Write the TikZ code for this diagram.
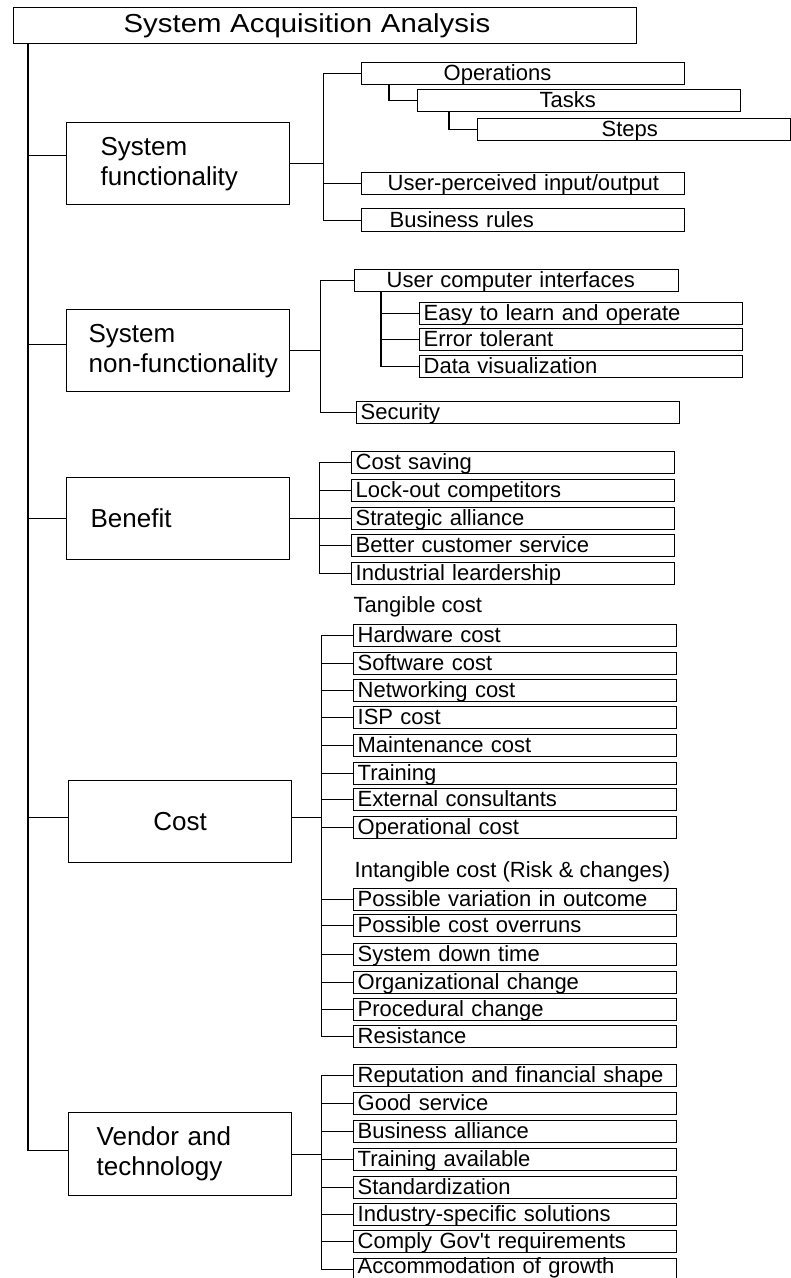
\documentclass[tikz,border=0pt]{standalone}
\usepackage{fontspec}
\usepackage{tikz}
\usetikzlibrary{positioning}
\newfontfamily\sansA{Liberation Sans}
\newfontfamily\sansT[FakeStretch=1.13]{Liberation Sans}
\newcommand{\leaffont}{\sansA\fontsize{22}{24}\selectfont}
\newcommand{\topicfont}{\sansA\fontsize{26}{30}\selectfont}
\newcommand{\titlefont}{\sansT\fontsize{26}{30}\selectfont}
\tikzset{
	leaf/.style={draw, anchor=north west, minimum height=22pt, inner xsep=4pt, inner ysep=0pt,
		text width=#1, align=left, text height=17pt, text depth=3pt, font=\leaffont},
	leaf/.default=315pt,
	topic/.style={draw, anchor=north west, minimum width=223pt, minimum height=82pt,
		inner xsep=8pt, text width=207pt, align=left, font=\topicfont},
	groupcap/.style={anchor=west, inner sep=0pt, font=\leaffont},
}

\begin{document}
\begin{tikzpicture}[x=1pt, y=-1pt, line width=1.3pt]
	\useasboundingbox (0,0) rectangle (791,1278);
	\clip (0,0) rectangle (791,1278);
	
	% Title and trunk
	\node [draw, anchor=north west, minimum width=623pt, minimum height=36pt, inner sep=0pt,
		text width=623pt, align=left, font=\titlefont] (title) at (13,7) {\hspace*{110pt}System Acquisition Analysis};
	\coordinate (trunk) at ([xshift=15]title.south west);
	
	% Topics
	\node [topic] (sf) at (66,122) {\hspace*{26pt}System\\\hspace*{26pt}functionality};
	\node [topic] (nf) at (66,309) {\hspace*{14pt}System\\\hspace*{14pt}\mbox{non-functionality}};
	\node [topic] (bn) at (66,477) {\hspace*{16pt}Benefit};
	\node [topic, align=center] (ct) at (68,780) {Cost};
	\node [topic, minimum height=83pt] (vt) at (68,1112) {\hspace*{20pt}Vendor and\\\hspace*{20pt}technology};
	
	% System functionality
	\node [leaf] (op) at (361,62) {\hspace*{78pt}Operations};
	\node [leaf] (tk) at (417,89) {\hspace*{118pt}Tasks};
	\node [leaf=305pt] (st) at (477,118) {\hspace*{120pt}Steps};
	\node [leaf] (up) at (361,172) {\hspace*{22pt}User-perceived input/output};
	\node [leaf, minimum height=23pt] (br) at (361,208) {\hspace*{24pt}Business rules};
	
	% System non-functionality
	\node [leaf=316pt] (uci) at (354,269) {\hspace*{28pt}User computer interfaces};
	\node [leaf] (ez) at (419,302) {Easy to learn and operate};
	\node [leaf] (et) at (419,328) {Error tolerant};
	\node [leaf] (dv) at (419,355) {Data visualization};
	\node [leaf] (sec) at (356,401) {Security};
	
	% Benefit
	\node [leaf] (b1) at (351,451) {Cost saving};
	\node [leaf] (b2) at (351,479) {Lock-out competitors};
	\node [leaf] (b3) at (351,507) {Strategic alliance};
	\node [leaf] (b4) at (351,534) {Better customer service};
	\node [leaf] (b5) at (351,562) {Industrial leardership};
	
	% Cost: tangible
	\node [groupcap] (tang) at (353,607) {Tangible cost};
	\node [leaf] (c1) at (353,624) {Hardware cost};
	\node [leaf] (c2) at (353,652) {Software cost};
	\node [leaf] (c3) at (353,679) {Networking cost};
	\node [leaf] (c4) at (353,706) {ISP cost};
	\node [leaf] (c5) at (353,734) {Maintenance cost};
	\node [leaf] (c6) at (353,762) {Training};
	\node [leaf] (c7) at (353,788) {External consultants};
	\node [leaf] (c8) at (353,816) {Operational cost};
	
	% Cost: intangible
	\node [groupcap] (intang) at (354,872) {Intangible cost (Risk \& changes)};
	\node [leaf] (i1) at (353,888) {Possible variation in outcome};
	\node [leaf] (i2) at (353,914) {Possible cost overruns};
	\node [leaf] (i3) at (353,943) {System down time};
	\node [leaf] (i4) at (353,971) {Organizational change};
	\node [leaf] (i5) at (353,998) {Procedural change};
	\node [leaf] (i6) at (353,1025) {Resistance};
	
	% Vendor and technology
	\node [leaf] (v1) at (353,1064) {Reputation and financial shape};
	\node [leaf] (v2) at (353,1092) {Good service};
	\node [leaf] (v3) at (353,1120) {Business alliance};
	\node [leaf] (v4) at (353,1148) {Training available};
	\node [leaf] (v5) at (353,1176) {Standardization};
	\node [leaf] (v6) at (353,1203) {Industry-specific solutions};
	\node [leaf] (v7) at (353,1230) {Comply Gov't requirements};
	\node [leaf, text height=14pt, text depth=6pt] (v8) at (353,1258) {Accommodation of growth};
	
	% Connections: trunk
	\draw (trunk) |- ([yshift=8]sf.west);
	\draw (trunk) |- ([yshift=6]nf.west);
	\draw (trunk) |- (bn.west);
	\draw (trunk) |- ([yshift=4]ct.west);
	\draw (trunk) |- ([yshift=4]vt.west);
	
	% Connections: system functionality
	\coordinate (sfJ) at ([xshift=33]sf.east);
	\draw (sf.east) -- (sfJ);
	\draw (op.west) -| (sfJ) |- (br.west);
	\draw (sfJ |- up.west) -- (up.west);
	\coordinate (opJ) at ([xshift=28]op.south west);
	\draw (opJ) |- (tk.west);
	\coordinate (tkJ) at ([xshift=32]tk.south west);
	\draw (tkJ) |- (st.west);
	
	% Connections: system non-functionality
	\coordinate (nfJ) at ([xshift=30]nf.east);
	\draw (nf.east) -- (nfJ);
	\draw (uci.west) -| (nfJ) |- (sec.west);
	\coordinate (uciJ) at ([xshift=27]uci.south west);
	\draw (uciJ) |- (dv.west);
	\draw (uciJ |- ez.west) -- (ez.west);
	\draw (uciJ |- et.west) -- (et.west);
	
	% Connections: benefit
	\coordinate (bnJ) at ([xshift=29]bn.east);
	\draw (bn.east) -- (bnJ);
	\draw (b1.west) -| (bnJ) |- (b5.west);
	\draw (bnJ |- b2.west) -- (b2.west);
	\draw (bnJ |- b3.west) -- (b3.west);
	\draw (bnJ |- b4.west) -- (b4.west);
	
	% Connections: cost
	\coordinate (ctJ) at ([xshift=29,yshift=4]ct.east);
	\draw ([yshift=4]ct.east) -- (ctJ);
	\draw (c1.west) -| (ctJ) |- (i6.west);
	\draw (ctJ |- c2.west) -- (c2.west);
	\draw (ctJ |- c3.west) -- (c3.west);
	\draw (ctJ |- c4.west) -- (c4.west);
	\draw (ctJ |- c5.west) -- (c5.west);
	\draw (ctJ |- c6.west) -- (c6.west);
	\draw (ctJ |- c7.west) -- (c7.west);
	\draw (ctJ |- c8.west) -- (c8.west);
	\draw (ctJ |- i1.west) -- (i1.west);
	\draw (ctJ |- i2.west) -- (i2.west);
	\draw (ctJ |- i3.west) -- (i3.west);
	\draw (ctJ |- i4.west) -- (i4.west);
	\draw (ctJ |- i5.west) -- (i5.west);
	
	% Connections: vendor and technology
	\coordinate (vtJ) at ([xshift=29]vt.east);
	\draw (vt.east) -- (vtJ);
	\draw (v1.west) -| (vtJ) |- (v8.west);
	\draw (vtJ |- v2.west) -- (v2.west);
	\draw (vtJ |- v3.west) -- (v3.west);
	\draw (vtJ |- v4.west) -- (v4.west);
	\draw (vtJ |- v5.west) -- (v5.west);
	\draw (vtJ |- v6.west) -- (v6.west);
	\draw (vtJ |- v7.west) -- (v7.west);
\end{tikzpicture}
\end{document}
